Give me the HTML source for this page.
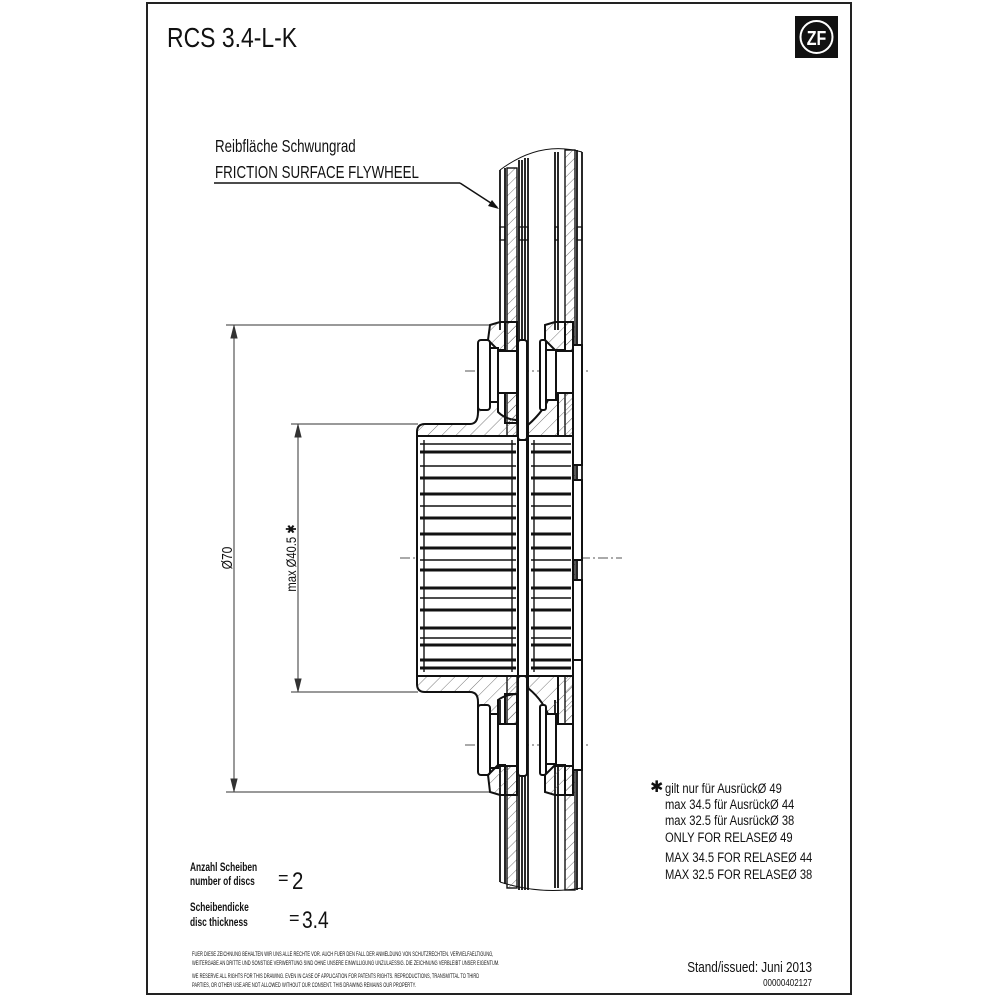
<!DOCTYPE html>
<html><head><meta charset="utf-8"><style>
html,body{margin:0;padding:0;background:#fff;}
svg{display:block}
text{font-family:"Liberation Sans",sans-serif;fill:#111}
</style></head><body>
<svg width="1000" height="1000" viewBox="0 0 1000 1000" xmlns="http://www.w3.org/2000/svg">
<defs>
<pattern id="h" width="7" height="7" patternUnits="userSpaceOnUse" patternTransform="rotate(45)">
<line x1="0" y1="0" x2="0" y2="7" stroke="#555" stroke-width="0.8"/>
</pattern>
<pattern id="h2" width="10" height="10" patternUnits="userSpaceOnUse" patternTransform="rotate(45)">
<line x1="0" y1="0" x2="0" y2="10" stroke="#555" stroke-width="0.8"/>
</pattern>
</defs>
<rect x="147" y="3" width="704" height="991" fill="none" stroke="#222" stroke-width="2"/>
<text x="167" y="47" font-size="28" transform="translate(167 0) scale(0.82 1) translate(-167 0)">RCS 3.4-L-K</text>
<rect x="795" y="16" width="43" height="42" fill="#111"/>
<circle cx="816.5" cy="37" r="16" fill="none" stroke="#fff" stroke-width="2"/>
<text x="816.5" y="45" font-size="20" font-weight="bold" text-anchor="middle" style="fill:#fff" transform="translate(816.5 0) scale(0.8 1) translate(-816.5 0)">ZF</text>

<g transform="translate(215 0) scale(0.74 1) translate(-215 0)">
<text x="215" y="152" font-size="18">Reibfläche Schwungrad</text>
<text x="215" y="178" font-size="18">FRICTION SURFACE FLYWHEEL</text>
</g>
<line x1="214" y1="183" x2="460" y2="183" stroke="#111" stroke-width="1.5"/>
<line x1="460" y1="183" x2="497" y2="207" stroke="#111" stroke-width="1.5"/>
<polygon points="499,209 488,206 492,200" fill="#111"/>

<!-- dimension lines -->
<g stroke="#333" stroke-width="1" fill="#333">
<line x1="226" y1="325" x2="490" y2="325"/>
<line x1="226" y1="792" x2="490" y2="792"/>
<line x1="234" y1="325" x2="234" y2="792"/>
<polygon points="234,326 231,338 237,338"/><polygon points="234,791 231,779 237,779"/>
<line x1="291" y1="424" x2="418" y2="424"/>
<line x1="291" y1="692" x2="418" y2="692"/>
<line x1="298" y1="424" x2="298" y2="692"/>
<polygon points="298,425 295,437 301,437"/><polygon points="298,691 295,679 301,679"/>
</g>
<text transform="translate(232 558) rotate(-90) scale(0.8 1)" font-size="15" text-anchor="middle">Ø70</text>
<text transform="translate(296 558) rotate(-90) scale(0.8 1)" font-size="14" text-anchor="middle">max Ø40.5 ✱</text>

<!-- center lines -->
<g stroke="#555" stroke-width="1" stroke-dasharray="10,3,2,3">
<line x1="400" y1="558" x2="622" y2="558"/>
<line x1="465" y1="371" x2="588" y2="371"/>
<line x1="465" y1="745" x2="588" y2="745"/>
</g>

<!-- plates -->
<g stroke="#111" stroke-width="1.8" fill="none">
<rect x="507" y="168" width="10" height="720" fill="url(#h)" stroke-width="1.4"/>
<line x1="500" y1="170" x2="500" y2="330"/>
<line x1="505" y1="168" x2="505" y2="330"/>
<line x1="500" y1="700" x2="500" y2="882"/>
<line x1="505" y1="700" x2="505" y2="884"/>
<line x1="519" y1="160" x2="519" y2="890"/>
<line x1="522" y1="160" x2="522" y2="890"/>
<line x1="525" y1="158" x2="525" y2="890"/>
<line x1="528" y1="158" x2="528" y2="890"/>
<rect x="565" y="150" width="10" height="740" fill="url(#h)" stroke-width="1.4"/>
<line x1="555" y1="152" x2="555" y2="330"/>
<line x1="558" y1="152" x2="558" y2="330"/>
<line x1="555" y1="700" x2="555" y2="888"/>
<line x1="558" y1="700" x2="558" y2="888"/>
<line x1="577" y1="150" x2="577" y2="890"/>
<line x1="582" y1="152" x2="582" y2="890"/>
<path d="M500,170 Q540,140 582,152" stroke-width="1"/>
<path d="M500,882 Q540,895 582,888" stroke-width="1"/>
<rect x="500" y="227" width="5" height="13" stroke-width="1.3"/>
<rect x="519" y="227" width="9" height="13" stroke-width="1.3"/>
<rect x="555" y="227" width="3" height="13" stroke-width="1.3"/>
<rect x="577" y="227" width="5" height="13" stroke-width="1.3"/>
</g>

<g stroke="#111" stroke-width="2" fill="#fff">
<path d="M417,432 Q417,424 425,424 L470,424 Q478,424 478,412 L478,395 L498,395 L498,412 Q506,420 518,420 L518,436 L417,436 Z" fill="url(#h2)"/>
<path d="M490,325 L500,322 L505,322 L505,350 L498,350 L488,340 Z" fill="url(#h2)"/>
<rect x="478" y="340" width="12" height="70" rx="3"/>
<rect x="490" y="348" width="8" height="54"/>
<rect x="498" y="351" width="19" height="42"/>
<rect x="505" y="322" width="12" height="29" fill="url(#h)"/>
<rect x="505" y="393" width="12" height="30" fill="url(#h)"/>
<path d="M417,684 Q417,692 425,692 L470,692 Q478,692 478,702 L478,720 L498,720 L498,700 Q506,694 518,694 L518,676 L417,676 Z" fill="url(#h2)"/>
<rect x="478" y="705" width="12" height="70" rx="3"/>
<rect x="490" y="714" width="8" height="54"/>
<rect x="498" y="724" width="19" height="42"/>
<path d="M488,775 L498,765 L505,765 L505,795 L500,795 L490,792 Z" fill="url(#h2)"/>
<rect x="505" y="694" width="12" height="30" fill="url(#h)"/>
<rect x="505" y="766" width="12" height="29" fill="url(#h)"/>
<rect x="417" y="436" width="101" height="240"/>
<rect x="518" y="340" width="9" height="100" rx="3"/>
<rect x="518" y="440" width="9" height="236"/>
<rect x="518" y="676" width="9" height="100" rx="3"/>
<path d="M528,425 Q545,410 550,395 L558,395 L558,436 L528,436 Z" fill="url(#h2)"/>
<path d="M545,325 L555,322 L565,322 L565,350 L555,350 L545,340 Z" fill="url(#h2)"/>
<rect x="540" y="340" width="6" height="70" rx="2"/>
<rect x="546" y="350" width="10" height="50"/>
<rect x="556" y="351" width="17" height="42"/>
<rect x="565" y="322" width="8" height="29" fill="url(#h)"/>
<rect x="558" y="393" width="15" height="43" fill="url(#h2)"/>
<path d="M528,688 Q545,702 550,720 L558,720 L558,676 L528,676 Z" fill="url(#h2)"/>
<rect x="558" y="676" width="15" height="48" fill="url(#h2)"/>
<rect x="540" y="705" width="6" height="70" rx="2"/>
<rect x="546" y="714" width="10" height="50"/>
<rect x="556" y="724" width="17" height="42"/>
<path d="M545,775 L555,765 L565,765 L565,795 L555,795 L545,792 Z" fill="url(#h2)"/>
<rect x="565" y="766" width="8" height="29" fill="url(#h)"/>
<rect x="528" y="436" width="45" height="240"/>
<rect x="573" y="345" width="9" height="120"/>
<rect x="573" y="480" width="9" height="80"/>
<rect x="573" y="580" width="9" height="80"/>
<rect x="573" y="660" width="9" height="110"/>
</g>
<g stroke="#111" fill="none">
<g stroke-width="3">
<line x1="420" y1="452" x2="516" y2="452"/><line x1="420" y1="478" x2="516" y2="478"/>
<line x1="420" y1="494" x2="516" y2="494"/><line x1="420" y1="518" x2="516" y2="518"/>
<line x1="420" y1="534" x2="516" y2="534"/><line x1="420" y1="548" x2="516" y2="548"/>
<line x1="420" y1="570" x2="516" y2="570"/><line x1="420" y1="588" x2="516" y2="588"/>
<line x1="420" y1="610" x2="516" y2="610"/><line x1="420" y1="628" x2="516" y2="628"/>
<line x1="420" y1="645" x2="516" y2="645"/><line x1="420" y1="660" x2="516" y2="660"/>
<line x1="420" y1="668" x2="516" y2="668"/>
<line x1="531" y1="452" x2="571" y2="452"/><line x1="531" y1="478" x2="571" y2="478"/>
<line x1="531" y1="494" x2="571" y2="494"/><line x1="531" y1="518" x2="571" y2="518"/>
<line x1="531" y1="534" x2="571" y2="534"/><line x1="531" y1="548" x2="571" y2="548"/>
<line x1="531" y1="570" x2="571" y2="570"/><line x1="531" y1="588" x2="571" y2="588"/>
<line x1="531" y1="610" x2="571" y2="610"/><line x1="531" y1="628" x2="571" y2="628"/>
<line x1="531" y1="645" x2="571" y2="645"/><line x1="531" y1="660" x2="571" y2="660"/>
<line x1="531" y1="668" x2="571" y2="668"/>
</g>
<g stroke-width="1.4">
<line x1="420" y1="444" x2="516" y2="444"/><line x1="420" y1="466" x2="516" y2="466"/>
<line x1="420" y1="506" x2="516" y2="506"/><line x1="420" y1="560" x2="516" y2="560"/>
<line x1="420" y1="598" x2="516" y2="598"/><line x1="420" y1="638" x2="516" y2="638"/>
<line x1="531" y1="444" x2="571" y2="444"/><line x1="531" y1="466" x2="571" y2="466"/>
<line x1="531" y1="506" x2="571" y2="506"/><line x1="531" y1="560" x2="571" y2="560"/>
<line x1="531" y1="598" x2="571" y2="598"/><line x1="531" y1="638" x2="571" y2="638"/>
<line x1="424" y1="440" x2="424" y2="672"/><line x1="512" y1="440" x2="512" y2="672"/>
<line x1="534" y1="440" x2="534" y2="672"/>
</g>
</g>

<g font-size="14">
<text x="650" y="792" font-size="16">✱</text>
<g transform="translate(665 0) scale(0.8 1) translate(-665 0)">
<text x="665" y="793">gilt nur für AusrückØ 49</text>
<text x="665" y="809">max 34.5 für AusrückØ 44</text>
<text x="665" y="825">max 32.5 für AusrückØ 38</text>
<text x="665" y="842">ONLY FOR RELASEØ  49</text>
<text x="665" y="862">MAX 34.5 FOR RELASEØ  44</text>
<text x="665" y="879">MAX 32.5 FOR RELASEØ  38</text>
</g>
</g>

<g transform="translate(190 0) scale(0.7 1) translate(-190 0)">
<text x="190" y="871" font-size="12" font-weight="bold">Anzahl Scheiben</text>
<text x="190" y="885" font-size="12" font-weight="bold">number of discs</text>
<text x="190" y="911" font-size="12" font-weight="bold">Scheibendicke</text>
<text x="190" y="926" font-size="12" font-weight="bold">disc thickness</text>
</g>
<text x="278" y="884" font-size="18">=</text>
<text x="292" y="889" font-size="24" transform="translate(292 0) scale(0.85 1) translate(-292 0)">2</text>
<text x="289" y="924" font-size="18">=</text>
<text x="302" y="928" font-size="24" transform="translate(302 0) scale(0.8 1) translate(-302 0)">3.4</text>

<g font-size="6.5" transform="translate(192 0) scale(0.62 1) translate(-192 0)">
<text x="192" y="956">FUER DIESE ZEICHNUNG BEHALTEN WIR UNS ALLE RECHTE VOR. AUCH FUER DEN FALL DER ANMELDUNG VON SCHUTZRECHTEN. VERVIELFAELTIGUNG,</text>
<text x="192" y="965">WEITERGABE AN DRITTE UND SONSTIGE VERWERTUNG SIND OHNE UNSERE EINWILLIGUNG UNZULAESSIG. DIE ZEICHNUNG VERBLEIBT UNSER EIGENTUM.</text>
<text x="192" y="978">WE RESERVE ALL RIGHTS FOR THIS DRAWING. EVEN IN CASE OF APPLICATION FOR PATENTS RIGHTS. REPRODUCTIONS, TRANSMITTAL TO THIRD</text>
<text x="192" y="987">PARTIES, OR OTHER USE ARE NOT ALLOWED WITHOUT OUR CONSENT. THIS DRAWING REMAINS OUR PROPERTY.</text>
</g>
<text x="0" y="0" font-size="15" text-anchor="end" transform="translate(812 972) scale(0.78 1)">Stand/issued: Juni 2013</text>
<text x="0" y="0" font-size="10" text-anchor="end" transform="translate(812 986) scale(0.8 1)">00000402127</text>
</svg>
</body></html>
